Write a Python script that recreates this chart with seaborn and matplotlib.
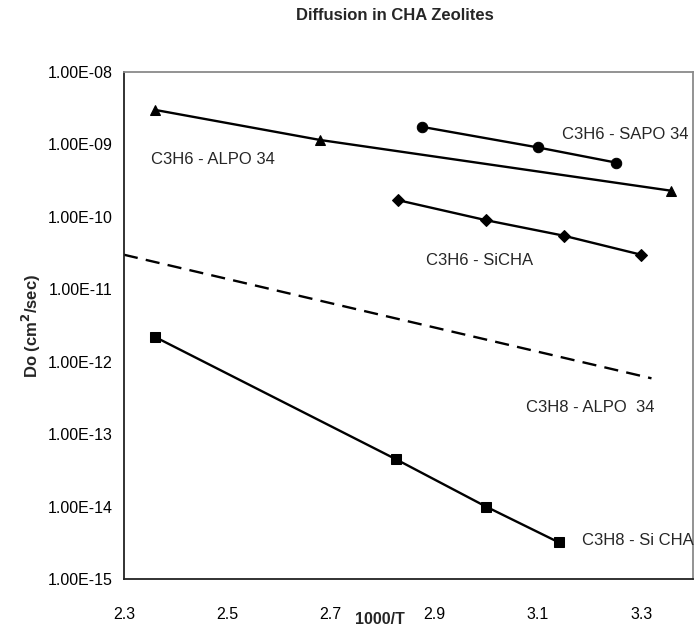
import matplotlib
matplotlib.use("Agg")
import matplotlib.pyplot as plt
import matplotlib.ticker as mticker
import seaborn as sns

# C3H6 on ALPO 34
alpo_c3h6_x = [2.36, 2.68, 3.357]
alpo_c3h6_y = [3.0e-9, 1.15e-9, 2.3e-10]

# C3H6 on SAPO 34
sapo_c3h6_x = [2.876, 3.10, 3.252]
sapo_c3h6_y = [1.75e-9, 9.1e-10, 5.6e-10]

# C3H6 on SiCHA
sicha_c3h6_x = [2.83, 3.0, 3.15, 3.30]
sicha_c3h6_y = [1.7e-10, 9.0e-11, 5.5e-11, 3.0e-11]

# C3H8 on ALPO 34 (dashed fit, no markers)
alpo_c3h8_x = [2.3, 3.32]
alpo_c3h8_y = [3.0e-11, 5.9e-13]

# C3H8 on Si CHA
sicha_c3h8_x = [2.36, 2.826, 3.0, 3.141]
sicha_c3h8_y = [2.2e-12, 4.5e-14, 1.0e-14, 3.2e-15]

x_ticks = [2.3, 2.5, 2.7, 2.9, 3.1, 3.3]

sns.set_style("white")
plt.rcParams['font.family'] = ['Liberation Sans', 'DejaVu Sans']

fig = plt.figure(figsize=(6.96, 6.31), dpi=100)
ax = fig.add_axes([0.178, 0.0824, 0.8175, 0.8035])

lw = 1.7
sns.lineplot(x=alpo_c3h6_x, y=alpo_c3h6_y, ax=ax, color='black', lw=lw,
             marker='^', markersize=7.5, markeredgecolor='black')
sns.lineplot(x=sapo_c3h6_x, y=sapo_c3h6_y, ax=ax, color='black', lw=lw,
             marker='o', markersize=7.5, markeredgecolor='black')
sns.lineplot(x=sicha_c3h6_x, y=sicha_c3h6_y, ax=ax, color='black', lw=lw,
             marker='D', markersize=6, markeredgecolor='black')
sns.lineplot(x=alpo_c3h8_x, y=alpo_c3h8_y, ax=ax, color='black', lw=lw)
ax.lines[-1].set_dashes((6, 3.5))
sns.lineplot(x=sicha_c3h8_x, y=sicha_c3h8_y, ax=ax, color='black', lw=lw,
             marker='s', markersize=7, markeredgecolor='black')

ax.set_yscale('log')
ax.set_ylim(1e-15, 1e-8)
ax.set_xlim(2.3, 3.4)

ax.set_xticks(x_ticks)
ax.xaxis.set_minor_locator(mticker.MultipleLocator(0.05))
ax.yaxis.set_major_locator(mticker.LogLocator(base=10, numticks=20))
ax.yaxis.set_minor_locator(mticker.LogLocator(base=10, subs=range(2, 10), numticks=20))
ax.yaxis.set_minor_formatter(mticker.NullFormatter())
ax.yaxis.set_major_formatter(mticker.FuncFormatter(lambda v, p: f"{v:.2E}"))
ax.xaxis.set_major_formatter(mticker.FuncFormatter(lambda v, p: f"{v:.1f}"))

ax.tick_params(axis='both', which='both', direction='in', colors='#333333',
               labelcolor='black', labelsize=11.5)
ax.tick_params(axis='both', which='major', length=6, width=1)
ax.tick_params(axis='both', which='minor', length=4, width=0.8)
ax.tick_params(axis='x', which='major', pad=20)
ax.tick_params(axis='y', which='major', pad=8)

for side in ['left', 'bottom']:
    ax.spines[side].set_color('#222222')
    ax.spines[side].set_linewidth(1.3)
for side in ['top', 'right']:
    ax.spines[side].set_color('#8a8a8a')
    ax.spines[side].set_linewidth(1.3)

# series labels
labels = [
    ("C3H6 - ALPO 34", 2.352, 6.1e-10),
    ("C3H6 - SAPO 34", 3.147, 1.35e-9),
    ("C3H6 - SiCHA", 2.884, 2.46e-11),
    ("C3H8 - ALPO  34", 3.078, 2.37e-13),
    ("C3H8 - Si CHA", 3.185, 3.38e-15),
]
for txt, lx, ly in labels:
    ax.text(lx, ly, txt, ha='left', va='center', fontsize=12)

fig.text(0.568, 0.975, "Diffusion in CHA Zeolites", ha='center', va='center',
         fontsize=12, fontweight='bold')

ax.set_ylabel("Do (cm$^{\\mathbf{2}}$/sec)", fontsize=12, fontweight='bold')
ax.yaxis.set_label_coords(-0.162, 0.5)
ax.yaxis.label.set_va('center')
ax.set_xlabel("1000/T", fontsize=11.5, fontweight='bold')
ax.xaxis.set_label_coords(0.45, -0.079)
ax.xaxis.label.set_va('center')

fig.savefig("out.png", dpi=100)
